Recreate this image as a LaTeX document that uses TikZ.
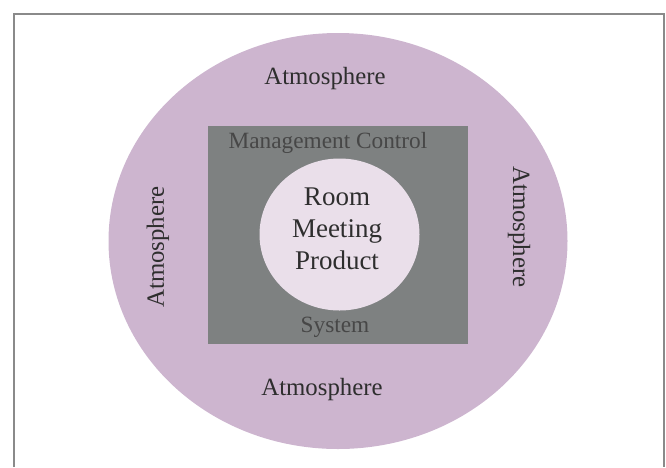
\documentclass[tikz,border=0pt]{standalone}
\usepackage{fontspec}
\setmainfont{Liberation Serif}
\usetikzlibrary{shapes.geometric}
\definecolor{atmo}{HTML}{CDB5CF}
\definecolor{sysgray}{HTML}{7E8181}
\definecolor{core}{HTML}{EADFEA}
\definecolor{txt}{HTML}{2E2E2E}
\definecolor{frame}{HTML}{8A8A8A}
\tikzset{
  lbl/.style={text=txt, font=\fontsize{24.8}{28}\selectfont, inner sep=0pt},
  syslbl/.style={text=black!72, font=\fontsize{23.3}{26}\selectfont, inner sep=0pt},
  corelbl/.style={text=txt, font=\fontsize{27}{32}\selectfont, align=center, inner sep=0pt}
}
\begin{document}
\begin{tikzpicture}[x=1pt,y=-1pt]
\useasboundingbox (0,0) rectangle (666,467);
\draw[frame, line width=1.4pt] (14,467) -- (14,14) -- (664,14) -- (664,467);
\node[ellipse, fill=atmo, minimum width=459pt, minimum height=416pt, inner sep=0pt] (outer) at (338,241) {};
\node[rectangle, fill=sysgray, minimum width=260pt, minimum height=218pt, inner sep=0pt] (sq) at (338,234.5) {};
\node[ellipse, fill=core, minimum width=160pt, minimum height=152pt, inner sep=0pt] (inner) at (339.5,234.5) {};
\node[lbl] (atop) at (325,79) {Atmosphere};
\node[lbl] (abot) at (322,390) {Atmosphere};
\node[lbl, rotate=90] (aleft) at (158,247) {Atmosphere};
\node[lbl, rotate=-90] (aright) at (519,227) {Atmosphere};
\node[syslbl] (mgmt) at (328,143) {Management Control};
\node[syslbl] (sys) at (335,327) {System};
\node[corelbl] (corelbl) at (337,229) {Room\\Meeting\\Product};
\end{tikzpicture}
\end{document}
